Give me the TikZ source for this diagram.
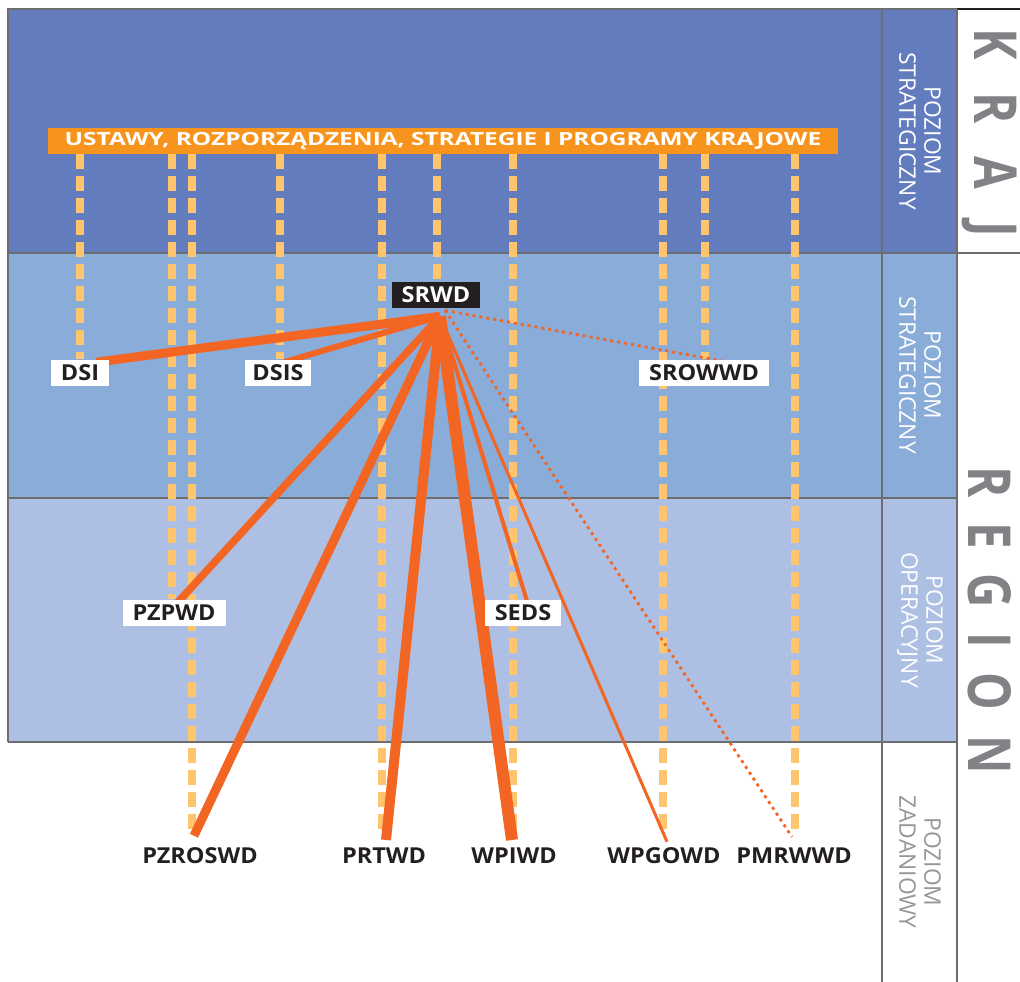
\documentclass[tikz,border=0pt]{standalone}
\usepackage{fontspec}
\setmainfont{Open Sans}
\newfontfamily\labelfont{Open Sans}[FakeStretch=1.07]
\newfontfamily\bannerfont{Open Sans}[FakeStretch=1.35]

\definecolor{bandtop}{HTML}{637CBE}
\definecolor{bandmid}{HTML}{8AACD8}
\definecolor{bandlow}{HTML}{ADC0E4}
\definecolor{colyellow}{HTML}{FFC56E}
\definecolor{linkorange}{HTML}{F26522}
\definecolor{banneror}{HTML}{F7941D}
\definecolor{boxblack}{HTML}{231F20}
\definecolor{rulegrey}{HTML}{6D6E71}
\definecolor{lettergrey}{HTML}{808285}
\definecolor{zadgrey}{HTML}{939598}

\pgfdeclarelayer{bands}
\pgfdeclarelayer{links}
\pgfsetlayers{bands,links,main}

\begin{document}
\begin{tikzpicture}[
    x=0.02cm, y=-0.02cm,
    lbl/.style={
        fill=white,
        text=boxblack,
        font=\labelfont\bfseries\fontsize{12.5}{14}\selectfont,
        minimum height=0.54cm,
        inner xsep=0.2cm,
        inner ysep=0pt
    },
    hubbox/.style={lbl, fill=boxblack, text=white, minimum height=0.52cm},
    tag/.style={text=boxblack, font=\labelfont\bfseries\fontsize{12.5}{14}\selectfont, inner sep=0pt, anchor=base},
    banner/.style={fill=banneror, text=white, font=\bannerfont\bfseries\fontsize{10.3}{11}\selectfont, minimum width=15.8cm, minimum height=0.52cm, inner sep=0pt},
    col/.style={colyellow, line width=0.16cm, dash pattern=on 0.3cm off 0.14cm},
    link/.style={linkorange},
    dotlink/.style={linkorange, line width=0.055cm, dash pattern=on 0.06cm off 0.08cm},
    rule/.style={rulegrey, line width=0.7pt},
    level/.style={rotate=-90, align=center, text=white, font=\fontsize{13}{14.2}\selectfont},
    side/.style={rotate=-90, yscale=1.25, text=lettergrey, font=\bfseries\fontsize{27}{27}\selectfont}
]
\useasboundingbox (0,0) rectangle (1020,982);

% Bands and frame
\begin{pgfonlayer}{bands}
\fill[bandtop] (8,10) rectangle (957,253);
\fill[bandmid] (8,253) rectangle (957,498);
\fill[bandlow] (8,498) rectangle (957,742);
\draw[rule] (8,742) -- (8,9) -- (957,9);
\draw[boxblack, line width=0.8pt] (957,9) -- (1020,9);
\draw[rule] (8,253) -- (1020,253);
\draw[rule] (8,498) -- (957,498);
\draw[rule] (8,742) -- (957,742);
\draw[rule] (882,9) -- (882,982);
\draw[rule] (957,9) -- (957,982);
\end{pgfonlayer}

% Level names and scope
\node[level] (lv1) at (920,131) {POZIOM\\STRATEGICZNY};
\node[level] (lv2) at (920,375) {POZIOM\\STRATEGICZNY};
\node[level] (lv3) at (920,620) {POZIOM\\OPERACYJNY};
\node[level, text=zadgrey] (lv4) at (920,862) {POZIOM\\ZADANIOWY};
\node[side] (kraj) at (990,133) {K\kern0.68em R\kern0.68em A\kern0.68em J};
\node[side] (region) at (990,620) {R\kern0.52em E\kern0.52em G\kern0.52em I\kern0.52em O\kern0.52em N};

% National documents
\node[banner] (laws) at (443,141) {USTAWY, ROZPORZĄDZENIA, STRATEGIE I PROGRAMY KRAJOWE};

% Regional documents
\node[hubbox] (SRWD) at (436,295) {SRWD};
\node[lbl] (DSI) at (80,373) {DSI};
\node[lbl, inner xsep=0.15cm] (DSIS) at (278,373) {DSIS};
\node[lbl] (SROWWD) at (704,373) {SROWWD};
\node[lbl] (PZPWD) at (174,613) {PZPWD};
\node[lbl] (SEDS) at (523,613) {SEDS};
\node[tag] (PZROSWD) at (200,863) {PZROSWD};
\node[tag] (PRTWD) at (384,863) {PRTWD};
\node[tag] (WPIWD) at (514,863) {WPIWD};
\node[tag] (WPGOWD) at (664,863) {WPGOWD};
\node[tag] (PMRWWD) at (794,863) {PMRWWD};

\coordinate (hub) at ([shift={(4,8)}]SRWD.south);
\coordinate (hubdot) at ([shift={(9,2)}]SRWD.south);

\begin{pgfonlayer}{links}
% Links to national level
\foreach \x/\n/\e in {80/DSI/0cm, 172/PZPWD/0cm, 192/PZROSWD/0.3cm, 280/DSIS/0cm, 382/PRTWD/0.3cm,
    437/SRWD/0cm, 513/WPIWD/0.3cm, 663/WPGOWD/0.3cm, 705/SROWWD/0cm, 795/PMRWWD/0.3cm}
    \draw[col, shorten >=\e] (laws.south -| \x,0) -- (\n.north -| \x,0);

% Links from SRWD
\draw[link, line width=0.18cm] (hub) -- ([shift={(-13,3)}]DSI.north east);
\draw[link, line width=0.12cm] (hub) -- ([shift={(6,3)}]DSIS.north);
\draw[link, line width=0.15cm] (hub) -- ([shift={(3,4)}]PZPWD.north);
\draw[link, line width=0.18cm] (hub) -- ([shift={(-6,-11)}]PZROSWD.north);
\draw[link, line width=0.2cm] (hub) -- ([shift={(2,-7)}]PRTWD.north);
\draw[link, line width=0.24cm] (hub) -- ([shift={(-2,-7)}]WPIWD.north);
\draw[link, line width=0.08cm] (hub) -- ([shift={(4,2)}]SEDS.north);
\draw[link, line width=0.06cm] (hub) -- ([shift={(3,-5)}]WPGOWD.north);
\draw[dotlink] (hubdot) -- ([shift={(-2,-10)}]PMRWWD.north);
\draw[dotlink] (hubdot) -- ([shift={(19,2)}]SROWWD.north);
\end{pgfonlayer}

\end{tikzpicture}
\end{document}
